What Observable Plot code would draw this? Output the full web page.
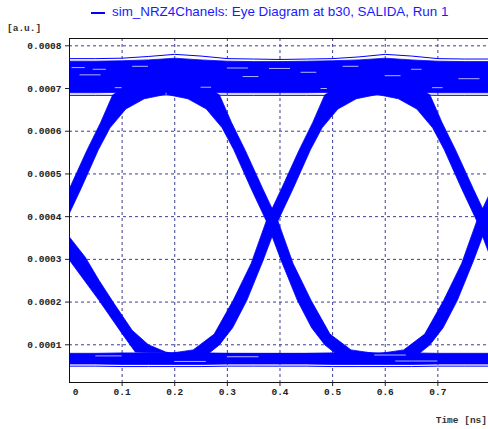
<!DOCTYPE html>
<html><head><meta charset="utf-8">
<script src="https://cdn.jsdelivr.net/npm/d3@7"></script>
<script src="https://cdn.jsdelivr.net/npm/@observablehq/plot@0.6"></script>
<style>
body{margin:0;background:#fff;width:488px;height:429px;overflow:hidden;position:relative;font-family:"Liberation Sans",Arial,sans-serif}
#chart{position:absolute;left:0;top:0}
.lbl{position:absolute;font-family:"Liberation Mono",monospace;font-weight:bold;font-size:9.5px;color:#333;white-space:nowrap}
#title{position:absolute;left:112px;top:4px;font-size:13.4px;color:#1a1aff;white-space:nowrap}
#swatch{position:absolute;left:91px;top:12px;width:14px;height:2px;background:#0000ff}
</style></head><body>
<div id="chart"></div>
<div id="swatch"></div><div id="title">sim_NRZ4Chanels: Eye Diagram at b30, SALIDA, Run 1</div>
<div class="lbl" style="left:7px;top:23px">[a.u.]</div>
<div class="lbl" style="right:1px;top:415px">Time [ns]</div>
<script>
// ---- data ----
const xTicks = [0.1, 0.2, 0.3, 0.4, 0.5, 0.6, 0.7];
const yTicks = [0.0001, 0.0002, 0.0003, 0.0004, 0.0005, 0.0006, 0.0007, 0.0008];
const risingCrossings = [-0.018, 0.385, 0.785];     // crossing times of rising transitions (ns)
const fallingCrossings = [0.385, 0.785];            // crossing times of falling transitions (ns)
// rising transition band outline, [time offset from crossing, value]
const risingBand = [
  [-0.2, 0.000079], [-0.15, 0.000088], [-0.11, 0.000125], [-0.074, 0.000204], [-0.04, 0.00029],
  [-0.011, 0.00039], [0.018, 0.000466], [0.051, 0.000555], [0.077, 0.00062], [0.1, 0.000685],
  [0.12, 0.0007], [0.2, 0.0007], [0.2, 0.000686], [0.16, 0.000676], [0.125, 0.000652],
  [0.095, 0.000608], [0.073, 0.000557], [0.04, 0.000466], [0.011, 0.00039], [-0.017, 0.000298],
  [-0.048, 0.000204], [-0.075, 0.00014], [-0.1, 0.0001], [-0.12, 0.00008], [-0.2, 0.00008]
];
// falling transition band outline, [time offset from crossing, value]
const fallingBand = [
  [0.2, 0.000079], [0.15, 0.000088], [0.11, 0.000125], [0.074, 0.000204], [0.04, 0.00029],
  [0.011, 0.00039], [-0.018, 0.000466], [-0.051, 0.000555], [-0.077, 0.00062], [-0.1, 0.000685],
  [-0.12, 0.0007], [-0.2, 0.0007], [-0.2, 0.000686], [-0.16, 0.000676], [-0.125, 0.000652],
  [-0.095, 0.000608], [-0.073, 0.000557], [-0.04, 0.000466], [-0.011, 0.00039], [0.017, 0.000298],
  [0.048, 0.000204], [0.075, 0.00014], [0.1, 0.0001], [0.12, 0.00008], [0.2, 0.00008]
];
// first (leftmost) falling band, absolute [time, value]
const firstFallingBand = [
  [0.2, 0.000079], [0.183, 0.000083], [0.15, 0.0001], [0.119, 0.000134], [0.085, 0.000196],
  [0.056, 0.000251], [0.03, 0.000305], [0, 0.000352], [-0.03, 0.00041], [-0.06, 0.0005],
  [-0.1, 0.0006], [-0.15, 0.0007], [-0.22, 0.0007], [-0.22, 0.000686], [-0.1, 0.00062],
  [-0.05, 0.00042], [0, 0.000298], [0.056, 0.000204], [0.1, 0.000126], [0.125, 0.000083], [0.2, 0.00008]
];
// level bands
const bandT          = [0, 0.05, 0.1, 0.15, 0.2, 0.25, 0.3, 0.35, 0.4, 0.45, 0.5, 0.55, 0.6, 0.65, 0.7, 0.75, 0.8];
const highCoreTop    = [0.000764, 0.000764, 0.000765, 0.000767, 0.000771, 0.000767, 0.000764, 0.000763, 0.000763, 0.000764, 0.000765, 0.000767, 0.000771, 0.000767, 0.000764, 0.000763, 0.000763];
const highCoreBottom = [0.00069, 0.00069, 0.000691, 0.000691, 0.000691, 0.000691, 0.00069, 0.00069, 0.00069, 0.00069, 0.000691, 0.000691, 0.000691, 0.000691, 0.00069, 0.00069, 0.00069];
const highOuterTop   = [0.00077, 0.00077, 0.000771, 0.000775, 0.00078, 0.000776, 0.00077, 0.000769, 0.000768, 0.000769, 0.00077, 0.000774, 0.00078, 0.000776, 0.00077, 0.000769, 0.000769];
const highOuterBottom= [0.000684, 0.000684, 0.000684, 0.000685, 0.000685, 0.000685, 0.000684, 0.000684, 0.000684, 0.000684, 0.000684, 0.000685, 0.000685, 0.000685, 0.000684, 0.000684, 0.000684];
const lowCoreTop     = [0.00008, 0.00008, 0.000081, 0.000081, 0.000081, 0.000081, 0.00008, 0.00008, 0.00008, 0.00008, 0.000081, 0.000081, 0.000081, 0.000081, 0.00008, 0.00008, 0.00008];
const lowCoreBottom  = [0.000055, 0.000055, 0.000054, 0.000054, 0.000054, 0.000054, 0.000055, 0.000055, 0.000055, 0.000055, 0.000054, 0.000054, 0.000054, 0.000054, 0.000055, 0.000055, 0.000055];
const lowOuterBottom = [0.00005, 0.00005, 0.000049, 0.000049, 0.000049, 0.000049, 0.00005, 0.00005, 0.00005, 0.00005, 0.000049, 0.000049, 0.000049, 0.000049, 0.00005, 0.00005, 0.00005];
// thin white gaps between traces: [t1, t2, value]
const gaps = [
  [0.005, 0.03, 0.000749], [0.045, 0.07, 0.000745], [0.12, 0.15, 0.000752], [0.087, 0.1, 0.000702],
  [0.3, 0.34, 0.000748], [0.38, 0.42, 0.000747], [0.478, 0.49, 0.0007], [0.65, 0.67, 0.000745],
  [0.74, 0.78, 0.000723], [0.25, 0.27, 0.000703], [0.52, 0.55, 0.000752], [0.69, 0.71, 0.000702],
  [0.02, 0.06, 0.000732], [0.33, 0.36, 0.000728], [0.44, 0.47, 0.000738], [0.6, 0.63, 0.00073],
  [0.3, 0.36, 0.000072], [0.58, 0.64, 0.000076], [0.05, 0.1, 0.000074], [0.2, 0.26, 0.000061], [0.62, 0.7, 0.000062]
];

// ---- build mark tables ----
const polys = [];
risingCrossings.forEach((c, i) => risingBand.forEach(([dt, v]) => polys.push({id: "r" + i, x: c + dt, y: v})));
fallingCrossings.forEach((c, i) => fallingBand.forEach(([dt, v]) => polys.push({id: "f" + i, x: c + dt, y: v})));
firstFallingBand.forEach(([t, v]) => polys.push({id: "f0", x: t, y: v}));
bandT.forEach((t, i) => polys.push({id: "high", x: t, y: highCoreTop[i]}));
bandT.slice().reverse().forEach((t, j) => { const i = bandT.length - 1 - j; polys.push({id: "high", x: t, y: highCoreBottom[i]}); });
bandT.forEach((t, i) => polys.push({id: "low", x: t, y: lowCoreTop[i]}));
bandT.slice().reverse().forEach((t, j) => { const i = bandT.length - 1 - j; polys.push({id: "low", x: t, y: lowCoreBottom[i]}); });

const traces = [];
[["ht", highOuterTop], ["hb", highOuterBottom], ["lb", lowOuterBottom]].forEach(([id, arr]) =>
  bandT.forEach((t, i) => traces.push({id, x: t, y: arr[i]})));

const gapRows = gaps.map(([a, b, v]) => ({x1: a, x2: b, y: v}));

const yBottom = 0.0000117, yTop = 0.0008171;
const blue = "#0000ff", grid = "#3c3c96";

const chart = Plot.plot({
  width: 488, height: 429,
  marginLeft: 69, marginRight: 0, marginTop: 38, marginBottom: 47,
  x: {domain: [0, 0.7962]},
  y: {domain: [yBottom, yTop]},
  style: {fontFamily: "Liberation Mono, monospace", fontSize: "9.5px", fontWeight: "bold", color: "#222", background: "white"},
  marks: [
    Plot.ruleX(xTicks, {stroke: grid, strokeDasharray: "3,3"}),
    Plot.ruleY(yTicks, {stroke: grid, strokeDasharray: "3,3"}),
    Plot.line(polys, {x: "x", y: "y", z: "id", fill: blue, stroke: blue, strokeWidth: 0.8, curve: "linear-closed", clip: true}),
    Plot.line(traces, {x: "x", y: "y", z: "id", stroke: blue, strokeWidth: 1, clip: true}),
    Plot.ruleY(gapRows, {x1: "x1", x2: "x2", y: "y", stroke: "white", strokeWidth: 0.7, clip: true}),
    Plot.ruleY([yTop], {stroke: "#111"}),
    Plot.ruleY([yBottom], {stroke: "#111"}),
    Plot.ruleX([0], {stroke: "#111"}),
    Plot.axisY(yTicks, {tickSize: 4, tickPadding: 4, tickFormat: d => d.toFixed(4), label: null}),
    Plot.axisX(xTicks, {tickSize: 4, tickPadding: 2, tickFormat: d => String(d), label: null}),
    Plot.axisX([0], {tickSize: 0, tickPadding: 6, dx: 6, tickFormat: () => "0", label: null}),
    Plot.tickX([0], {y1: yBottom, stroke: "#111"})
  ]
});
document.getElementById("chart").appendChild(chart);
</script>
</body></html>
